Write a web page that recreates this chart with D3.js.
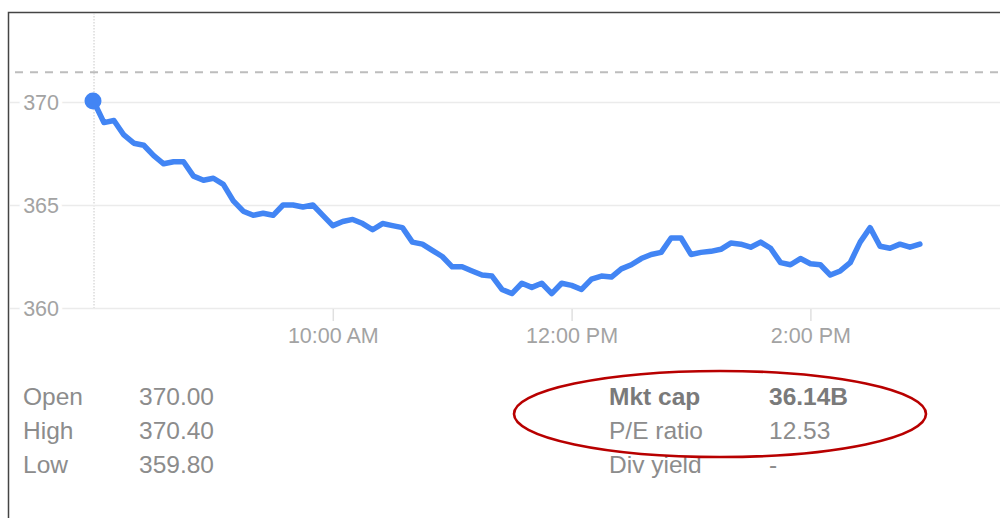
<!DOCTYPE html>
<html>
<head>
<meta charset="utf-8">
<script src="https://cdn.jsdelivr.net/npm/d3@7"></script>
<style>
  body { margin: 0; background: #fff; }
  svg { display: block; font-family: Arial, "Liberation Sans", sans-serif; }
</style>
</head>
<body>
<svg id="chart" width="1000" height="518"></svg>
<script>
// intraday prices, one every 5 minutes from 8:00
const prices = [
  370.0, 369.0, 369.1, 368.4, 368.0, 367.9, 367.4, 367.0, 367.1, 367.1,
  366.4, 366.2, 366.3, 366.0, 365.2, 364.7, 364.5, 364.6, 364.5, 365.0,
  365.0, 364.9, 365.0, 364.5, 364.0, 364.2, 364.3, 364.1, 363.8, 364.1,
  364.0, 363.9, 363.2, 363.1, 362.8, 362.5, 362.0, 362.0, 361.8, 361.6,
  361.55, 360.9, 360.7, 361.2, 361.0, 361.2, 360.7, 361.2, 361.1, 360.9,
  361.4, 361.55, 361.5, 361.9, 362.1, 362.4, 362.6, 362.7, 363.4, 363.4,
  362.6, 362.7, 362.75, 362.85, 363.15, 363.1, 362.95, 363.2, 362.9, 362.2,
  362.1, 362.4, 362.15, 362.1, 361.6, 361.8, 362.2, 363.2, 363.9, 363.0,
  362.9, 363.1, 362.95, 363.1
];
const startTime = new Date(2016, 0, 4, 8, 0);
const endTime = new Date(2016, 0, 4, 16, 0);
const prevClose = 371.45;

const yTicks = [360, 365, 370];
const xTicks = [
  new Date(2016, 0, 4, 10, 0),
  new Date(2016, 0, 4, 12, 0),
  new Date(2016, 0, 4, 14, 0)
];

const statsLeft = [["Open", "370.00"], ["High", "370.40"], ["Low", "359.80"]];
const statsRight = [["Mkt cap", "36.14B"], ["P/E ratio", "12.53"], ["Div yield", "-"]];

const data = prices.map((p, i) => ({
  date: d3.timeMinute.offset(startTime, i * 5),
  price: p
}));

const svg = d3.select("#chart");

const x = d3.scaleTime().domain([startTime, endTime]).range([94, 94 + 8 * 119.4]);
const y = d3.scaleLinear().domain([360, 370]).range([308, 102]);

// frame
svg.append("rect")
  .attr("x", 8.5).attr("y", 12.5)
  .attr("width", 1100).attr("height", 600)
  .attr("fill", "none").attr("stroke", "#444").attr("stroke-width", 1.5);

// vertical dotted line at the open
svg.append("line")
  .attr("x1", x(startTime)).attr("x2", x(startTime))
  .attr("y1", 13).attr("y2", 310)
  .attr("stroke", "#c8c8c8").attr("stroke-dasharray", "1.5,1.5");

// y grid + labels
svg.append("g")
  .attr("transform", "translate(10,0)")
  .call(d3.axisRight(y).tickValues(yTicks).tickSize(990).tickFormat(d3.format("d")))
  .call((g) => g.select(".domain").remove())
  .call((g) => g.selectAll(".tick line").attr("stroke", "#ebebeb").attr("stroke-width", 1.5))
  .call((g) =>
    g.selectAll(".tick text")
      .attr("x", 49)
      .attr("text-anchor", "end")
      .attr("dy", "0.36em")
      .attr("font-size", 21.5)
      .attr("fill", "#a3a3a3")
      .attr("stroke", "#fff")
      .attr("stroke-width", 8)
      .attr("paint-order", "stroke")
  );

// previous close
svg.append("line")
  .attr("x1", 15).attr("x2", 1000)
  .attr("y1", y(prevClose)).attr("y2", y(prevClose))
  .attr("stroke", "#bdbdbd").attr("stroke-width", 2)
  .attr("stroke-dasharray", "8,7");

// x axis
svg.append("g")
  .attr("transform", `translate(0,${y(360) + 1})`)
  .call(
    d3.axisBottom(x)
      .tickValues(xTicks)
      .tickSize(12)
      .tickPadding(7)
      .tickFormat(d3.timeFormat("%-I:%M %p"))
  )
  .call((g) => g.select(".domain").remove())
  .call((g) => g.selectAll(".tick line").attr("stroke", "#e0e0e0").attr("stroke-width", 1.5))
  .call((g) => g.selectAll(".tick text").attr("font-size", 21.5).attr("fill", "#a3a3a3"));

// price line
const line = d3.line().x((d) => x(d.date)).y((d) => y(d.price));

svg.append("path")
  .datum(data)
  .attr("d", line)
  .attr("fill", "none")
  .attr("stroke", "#4285f4")
  .attr("stroke-width", 5.5)
  .attr("stroke-linejoin", "round")
  .attr("stroke-linecap", "round");

svg.append("circle")
  .attr("cx", x(data[0].date) - 1)
  .attr("cy", y(data[0].price) - 1)
  .attr("r", 8.5)
  .attr("fill", "#4285f4");

// key stats below the chart
const drawStats = (rows, x1, x2, boldFirst) => {
  rows.forEach(([label, value], i) => {
    const bold = boldFirst && i === 0;
    const yy = 405 + i * 34;
    svg.append("text")
      .attr("x", x1).attr("y", yy)
      .attr("font-size", 24.5)
      .attr("font-weight", bold ? "bold" : "normal")
      .attr("fill", bold ? "#7a7a7a" : "#8c8c8c")
      .text(label);
    svg.append("text")
      .attr("x", x2).attr("y", yy)
      .attr("font-size", 24.5)
      .attr("font-weight", bold ? "bold" : "normal")
      .attr("fill", bold ? "#7a7a7a" : "#8c8c8c")
      .text(value);
  });
};
drawStats(statsLeft, 23, 139, false);
drawStats(statsRight, 609, 769, true);

// red annotation ellipse
svg.append("ellipse")
  .attr("cx", 720).attr("cy", 414)
  .attr("rx", 206).attr("ry", 43)
  .attr("fill", "none")
  .attr("stroke", "#b80000")
  .attr("stroke-width", 2.6);
</script>
</body>
</html>
